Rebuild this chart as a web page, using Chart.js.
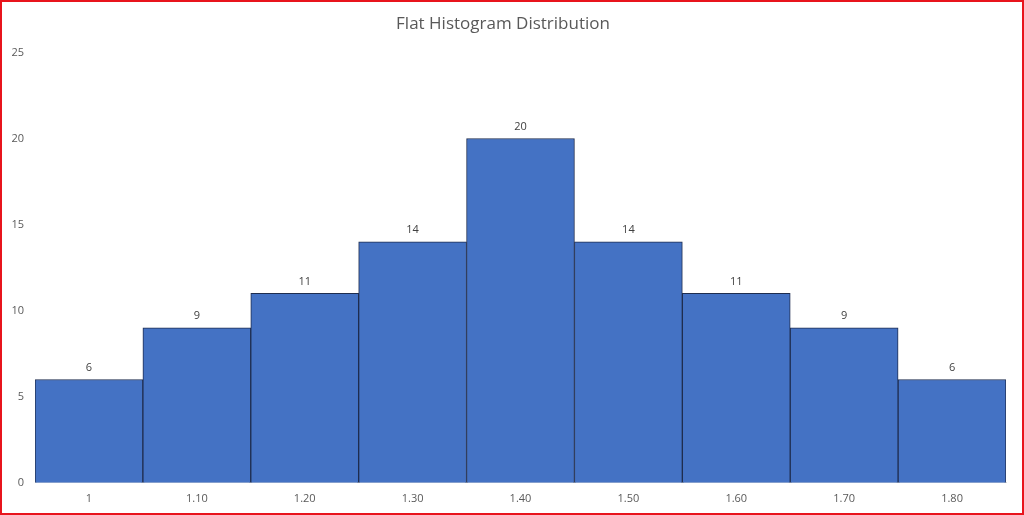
<!DOCTYPE html>
<html>
<head>
<meta charset="utf-8">
<script src="https://cdn.jsdelivr.net/npm/chart.js@4.4.0/dist/chart.umd.min.js"></script>
<style>
  html, body { margin: 0; padding: 0; background: #fff; }
  #wrap { width: 1024px; height: 515px; position: relative; }
</style>
</head>
<body>
<div id="wrap"><canvas id="histChart"></canvas></div>
<script>
// histogram bins and counts
const binLabels = ['1', '1.10', '1.20', '1.30', '1.40', '1.50', '1.60', '1.70', '1.80'];
const binCounts = [6, 9, 11, 14, 20, 14, 11, 9, 6];
const yTicks = [0, 5, 10, 15, 20, 25];

const fontFam = "'Open Sans', 'Liberation Sans', sans-serif";

// value labels above each bar
const barValues = {
    id: 'barValues',
    afterDatasetsDraw(chart) {
        const ctx = chart.ctx;
        const meta = chart.getDatasetMeta(0);
        ctx.save();
        ctx.fillStyle = '#404040';
        ctx.font = '11px ' + fontFam;
        ctx.textAlign = 'center';
        ctx.textBaseline = 'middle';
        meta.data.forEach((bar, i) => {
            ctx.fillText(binCounts[i], bar.x, bar.y - 12);
        });
        ctx.restore();
    }
};

// red frame round the whole picture
const redFrame = {
    id: 'redFrame',
    afterDraw(chart) {
        const ctx = chart.ctx;
        ctx.save();
        ctx.strokeStyle = '#e8141c';
        ctx.lineWidth = 2;
        ctx.strokeRect(1, 1, chart.width - 2, chart.height - 2);
        ctx.restore();
    }
};

const ctx = document.getElementById('histChart').getContext('2d');
new Chart(ctx, {
    type: 'bar',
    data: {
        labels: binLabels,
        datasets: [{
            data: binCounts,
            backgroundColor: '#4472c4',
            borderColor: '#1f2d4f',
            borderWidth: 1,
            barPercentage: 1,
            categoryPercentage: 1
        }]
    },
    options: {
        responsive: true,
        maintainAspectRatio: false,
        animation: false,
        layout: { padding: { left: 0, right: 18, top: 0, bottom: 1 } },
        plugins: {
            legend: { display: false },
            tooltip: { enabled: false },
            title: {
                display: true,
                text: 'Flat Histogram Distribution',
                color: '#595959',
                font: { family: fontFam, size: 17, weight: 'normal' },
                padding: { top: 14, bottom: 18 }
            }
        },
        scales: {
            x: {
                grid: { display: false, drawTicks: false },
                border: { display: true, color: '#d9d9d9', width: 1 },
                ticks: {
                    color: '#595959',
                    font: { family: fontFam, size: 11 },
                    padding: 9,
                    maxRotation: 0
                }
            },
            y: {
                min: 0,
                max: 25,
                afterFit(scale) { scale.width = 35; },
                afterBuildTicks(scale) { scale.ticks = yTicks.map(v => ({ value: v })); },
                grid: { display: false, drawTicks: false },
                border: { display: false },
                ticks: {
                    color: '#595959',
                    font: { family: fontFam, size: 11 },
                    padding: 11
                }
            }
        }
    },
    plugins: [barValues, redFrame]
});
</script>
</body>
</html>
